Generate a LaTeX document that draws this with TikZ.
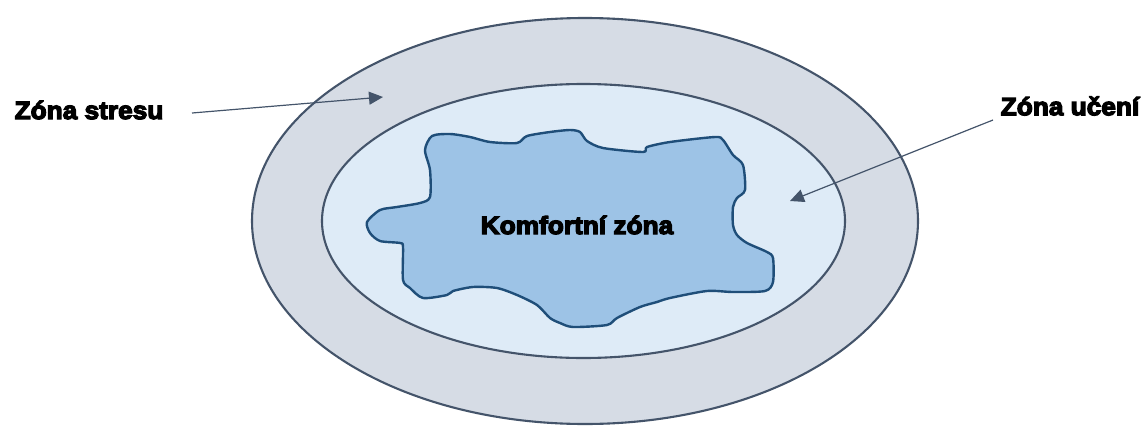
\documentclass[tikz,border=0pt]{standalone}
\usepackage{fontspec}
\newfontfamily\heavyfont{Liberation Sans}[UprightFont=*-Bold, FakeBold=5, FakeStretch=1.05]
\usetikzlibrary{arrows.meta}
\definecolor{ringline}{HTML}{44546A}
\definecolor{stressfill}{HTML}{D6DCE5}
\definecolor{learnfill}{HTML}{DEEBF7}
\definecolor{comfortfill}{HTML}{9DC3E6}
\definecolor{comfortline}{HTML}{1F4E79}
\tikzset{
  ring/.style={draw=ringline, line width=2.1pt},
  blob/.style={draw=comfortline, fill=comfortfill, line width=2.4pt, line join=round},
  zonelabel/.style={font=\heavyfont\fontsize{25}{25}\selectfont, inner sep=0pt, text=black},
  pointer/.style={draw=ringline, line width=1.2pt, -{Triangle[length=14pt,width=13pt]}}
}
\begin{document}
\begin{tikzpicture}[x=1pt,y=-1pt]
  \useasboundingbox (0,0) rectangle (1144,426);

  % stress zone (outer ring) and learning zone (inner ring)
  \draw[ring, fill=stressfill] (585,221) ellipse [x radius=333, y radius=203];
  \draw[ring, fill=learnfill] (583.5,221) ellipse [x radius=261.5, y radius=137];

  % comfort zone: irregular blob
  \draw[blob] plot [smooth cycle, tension=0.45] coordinates {
    (432,136) (450,134) (470,137) (490,142) (517,143) (527,136) (550,132)
    (570,130) (580,132) (587,141) (603,148) (643,152) (647,147) (670,142)
    (715,137) (723,140) (733,155) (743,165) (745,190) (737,198) (733,207)
    (733,225) (737,235) (747,243) (767,252) (773,258) (773,282) (765,291)
    (733,292) (707,291) (670,298) (657,302) (640,307) (617,318) (607,325)
    (573,327) (560,323) (550,318) (537,305) (517,295) (497,288) (473,287)
    (453,291) (447,295) (423,298) (410,288) (403,280) (403,247) (400,243)
    (380,241) (370,233) (367,222) (380,210) (397,207) (420,203) (430,197)
    (430,170) (425,150)};

  % labels
  \node[zonelabel] (comfort) at (577,225) {Komfortní zóna};
  \node[zonelabel] (stress) at (89,110) {Zóna stresu};
  \node[zonelabel] (learn) at (1070,106) {Zóna učení};

  % pointers from labels into the rings
  \coordinate (stressTail) at (192,113);
  \coordinate (stressHead) at (383,97);
  \coordinate (learnTail) at (993,120);
  \coordinate (learnHead) at (790,201);
  \draw[pointer] (stressTail) -- (stressHead);
  \draw[pointer] (learnTail) -- (learnHead);
\end{tikzpicture}
\end{document}
